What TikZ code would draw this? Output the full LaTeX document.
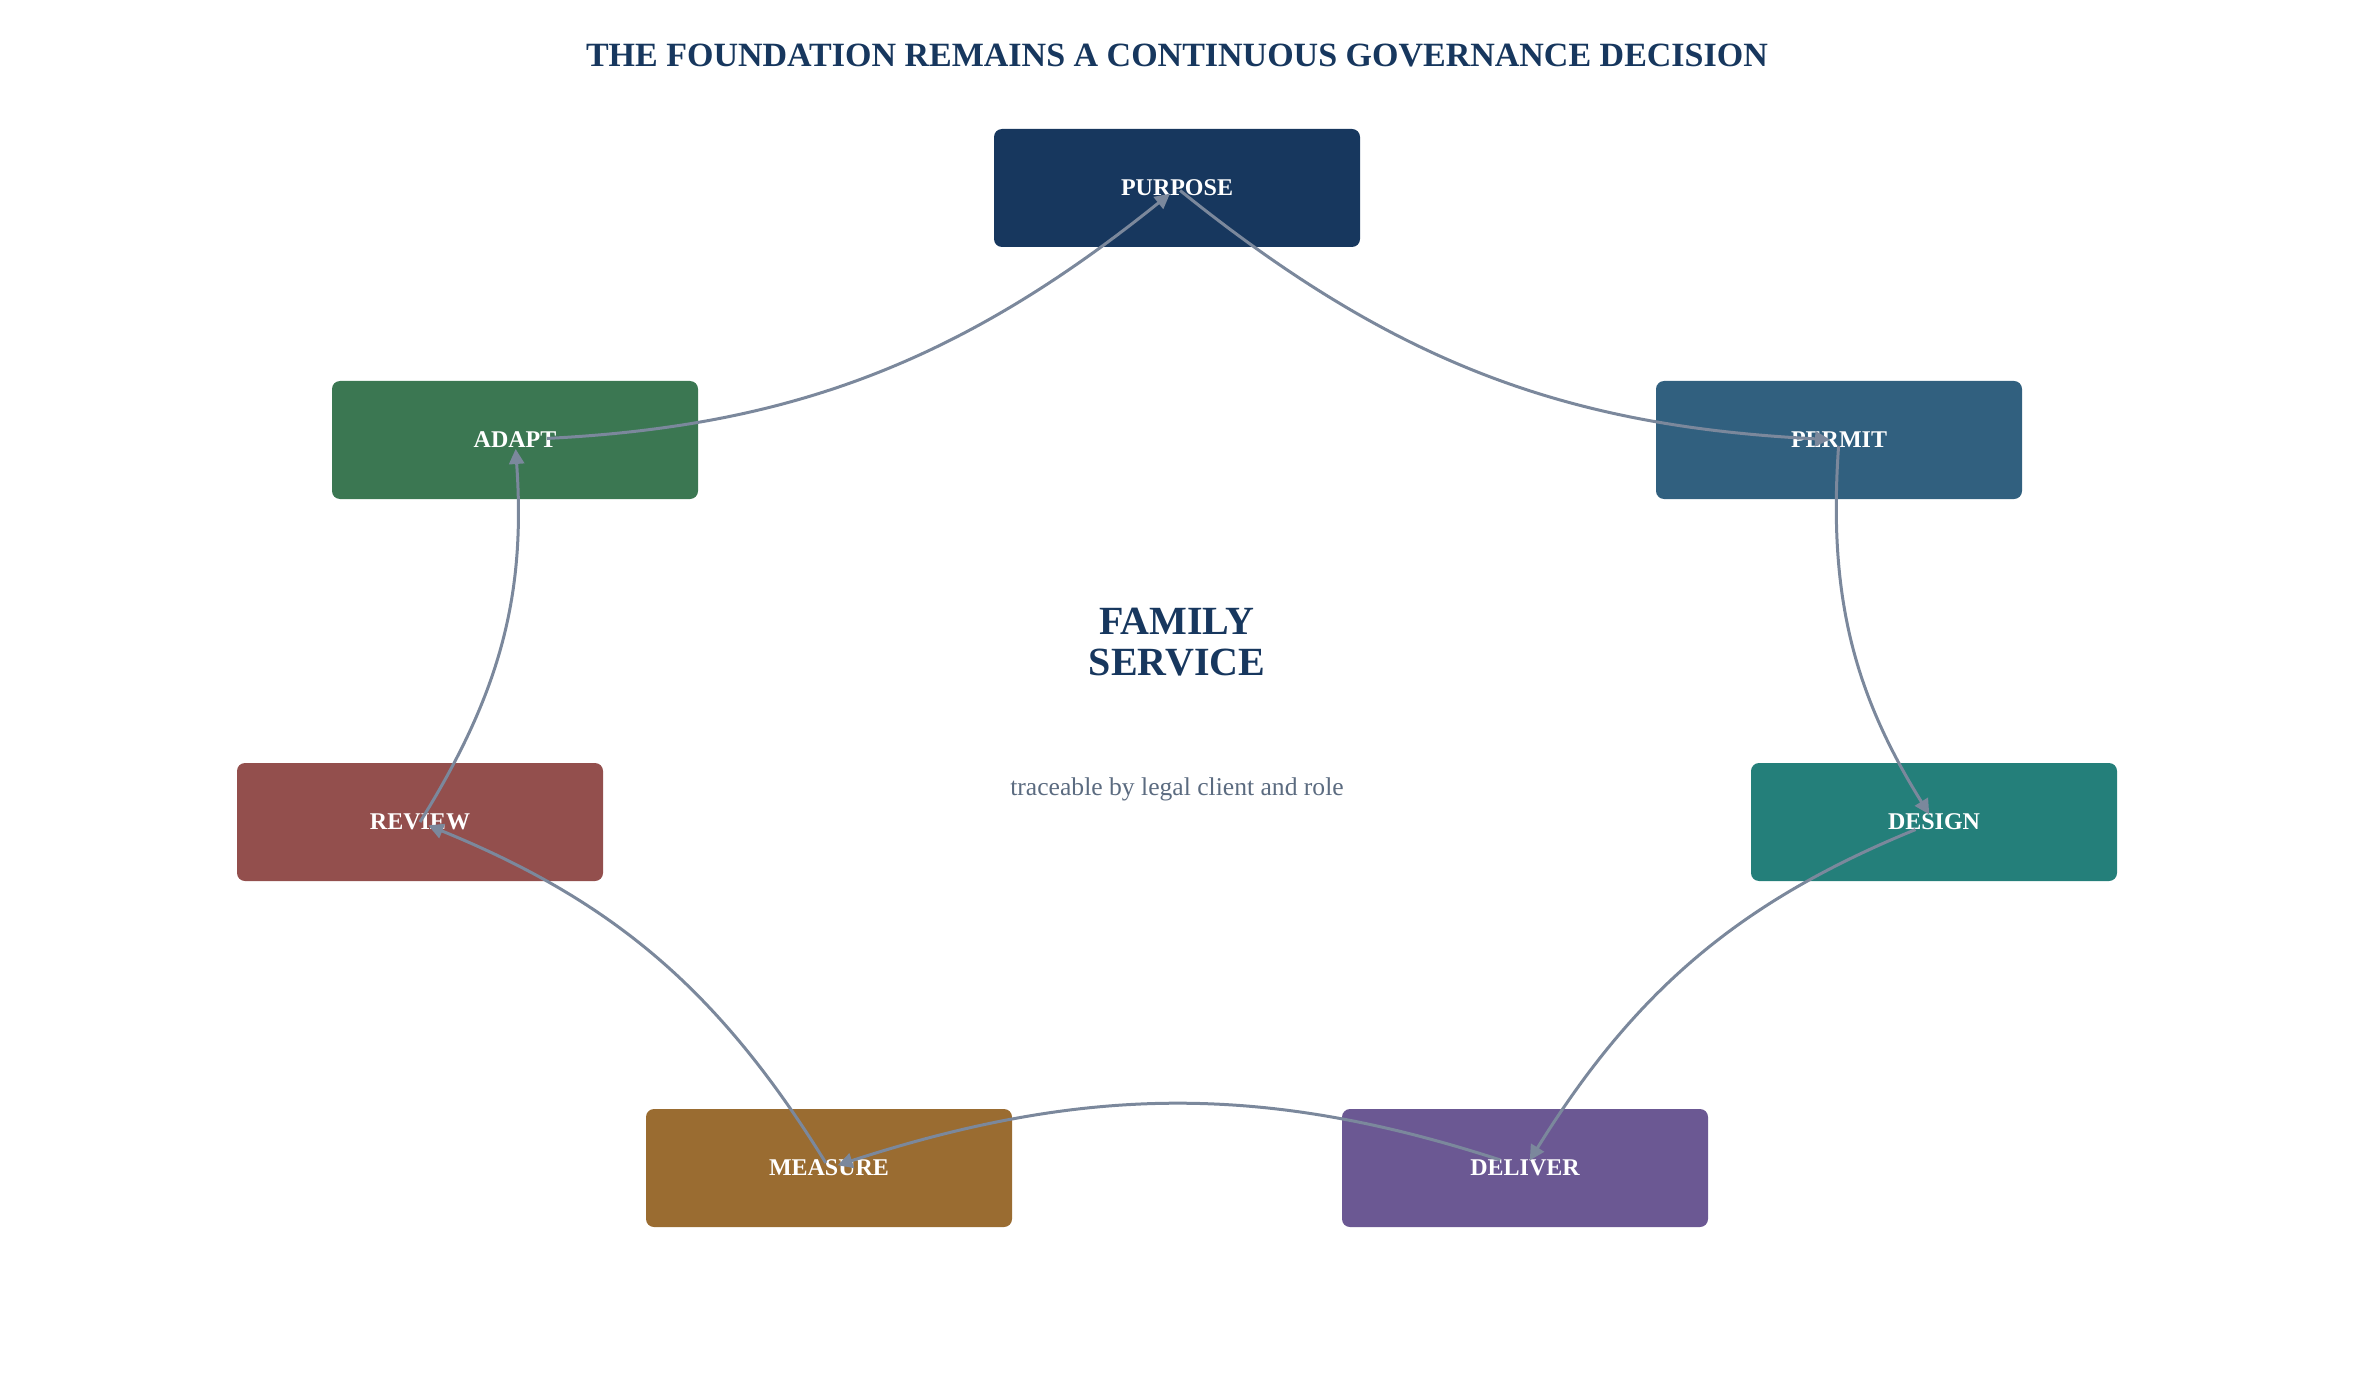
\documentclass[tikz,border=0pt]{standalone}
\usepackage{fontspec}
\setmainfont{Liberation Serif}
\usetikzlibrary{arrows.meta}
\definecolor{navy}{HTML}{17375E}
\definecolor{permitblue}{HTML}{31607F}
\definecolor{designteal}{HTML}{247F7A}
\definecolor{deliverpurple}{HTML}{6B5893}
\definecolor{measurebrown}{HTML}{9A6C31}
\definecolor{reviewred}{HTML}{934F4D}
\definecolor{adaptgreen}{HTML}{3B7752}
\definecolor{edgegrey}{HTML}{7B889C}
\definecolor{notegrey}{HTML}{5B6B80}

\begin{document}
\begin{tikzpicture}[x=0.5pt,y=-0.5pt,
  stage/.style={rounded corners=4pt, minimum width=183pt, minimum height=59pt, text=white, font=\bfseries\fontsize{12}{14}\selectfont},
  flow/.style={draw=edgegrey, line width=1.5pt, shorten >=4.5pt, -{Triangle[length=7.5pt,width=7.5pt]}}]
\useasboundingbox (0,0) rectangle (2354,1385);

\node[text=navy, font=\bfseries\fontsize{17}{20}\selectfont] (title) at (1177,56) {THE FOUNDATION REMAINS A CONTINUOUS GOVERNANCE DECISION};

\node[stage, fill=navy] (purpose) at (1177,188) {PURPOSE};
\node[stage, fill=permitblue] (permit) at (1839,440) {PERMIT};
\node[stage, fill=designteal] (design) at (1934,822) {DESIGN};
\node[stage, fill=deliverpurple] (deliver) at (1525,1168) {DELIVER};
\node[stage, fill=measurebrown] (measure) at (829,1168) {MEASURE};
\node[stage, fill=reviewred] (review) at (420,822) {REVIEW};
\node[stage, fill=adaptgreen] (adapt) at (515,440) {ADAPT};

\node[text=navy, align=center, font=\bfseries\fontsize{20}{20.5}\selectfont] (family) at (1177,642) {FAMILY\\SERVICE};
\node[text=notegrey, anchor=base, font=\fontsize{12.8}{15}\selectfont] (note) at (1177,795) {traceable by legal client and role};

\draw[flow, shorten <=2pt] (purpose.center) to[bend right=18] (permit.center);
\draw[flow, shorten <=3pt] (permit.center) to[bend right=18] (design.center);
\draw[flow, shorten <=10pt] (design.center) to[bend right=18] (deliver.center);
\draw[flow, shorten <=13pt] (deliver.center) to[bend right=18] (measure.center);
\draw[flow, shorten <=3pt] (measure.center) to[bend right=18] (review.center);
\draw[flow] (review.center) to[bend right=18] (adapt.center);
\draw[flow, shorten <=16pt] (adapt.center) to[bend right=18] (purpose.center);
\end{tikzpicture}
\end{document}
